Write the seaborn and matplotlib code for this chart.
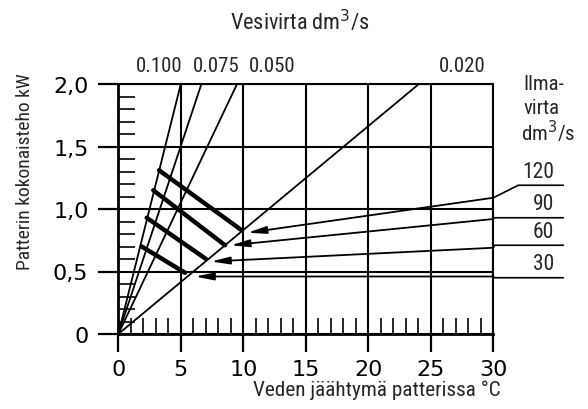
import matplotlib
matplotlib.use("Agg")
import matplotlib.pyplot as plt
from matplotlib.ticker import MultipleLocator
import numpy as np
import pandas as pd
import seaborn as sns

# ---------------- data ----------------
water_flow_labels = ["0.100", "0.075", "0.050", "0.020"]      # dm3/s
water_dT_at_top = [5.0, 6.65, 9.5, 24.05]                     # deg C where line reaches 2.0 kW
top_power = 2.0

air_flow_labels = ["120", "90", "60", "30"]                   # dm3/s
thick_dT_start = [3.26, 2.80, 2.27, 1.87]
thick_P_start = [1.31, 1.15, 0.93, 0.70]
thick_dT_end = [9.87, 8.54, 7.02, 5.34]
thick_P_end = [0.83, 0.71, 0.60, 0.49]

arrow_tail_P = [1.09, 0.92, 0.69, 0.46]
arrow_head_dT = [10.35, 9.0, 7.42, 6.14]
arrow_head_P = [0.81, 0.71, 0.58, 0.46]
label_line_P = [1.19, 0.93, 0.71, 0.45]

x_ticks = [0, 5, 10, 15, 20, 25, 30]
y_ticks = [0, 0.5, 1.0, 1.5, 2.0]
y_ticklabels = ["0", "0,5", "1,0", "1,5", "2,0"]

# ---------------- style ----------------
sns.set_style("ticks")
narrow = ["Roboto Condensed", "Liberation Sans Narrow", "Open Sans Condensed", "Lato", "DejaVu Sans"]
plt.rcParams["font.family"] = ["DejaVu Sans"]

fig = plt.figure(figsize=(5.88, 4.10), dpi=100)
ax = fig.add_axes([118.3 / 588, 75 / 410, 375 / 588, 250 / 410])

# water-flow lines (from origin)
wl = pd.DataFrame({
    "flow": np.repeat(water_flow_labels, 2),
    "dT": np.ravel([[0.0, d] for d in water_dT_at_top]),
    "P": np.ravel([[0.0, top_power] for _ in water_dT_at_top]),
})
sns.lineplot(data=wl, x="dT", y="P", units="flow", estimator=None, sort=False,
             color="black", lw=1.3, ax=ax, zorder=3)

# air-flow thick segments
th = pd.DataFrame({
    "air": np.repeat(air_flow_labels, 2),
    "dT": np.ravel(list(zip(thick_dT_start, thick_dT_end))),
    "P": np.ravel(list(zip(thick_P_start, thick_P_end))),
})
sns.lineplot(data=th, x="dT", y="P", units="air", estimator=None, sort=False,
             color="black", lw=3.2, ax=ax, zorder=4)

# arrows from right edge
for tp, hx, hp in zip(arrow_tail_P, arrow_head_dT, arrow_head_P):
    ax.annotate("", xy=(hx, hp), xytext=(30, tp),
                arrowprops=dict(arrowstyle="-|>,head_length=1.1,head_width=0.22",
                                color="black", lw=1.3, shrinkA=0, shrinkB=0,
                                mutation_scale=10),
                zorder=5, annotation_clip=False)

# label leaders and underlines
knee_x = [32.0, 30.1, 30.1, 30.1]
for tp, lp, kx, lab in zip(arrow_tail_P, label_line_P, knee_x, air_flow_labels):
    ax.plot([30, kx, 35.6], [tp, lp, lp], color="black", lw=1.2, clip_on=False, zorder=5)
    ax.text(34.86, lp + 0.11, lab, ha="right", va="center", fontsize=15.5,
            family=narrow, clip_on=False)

ax.text(32.4, 2.0, "Ilma-", ha="left", va="center", fontsize=15, family=narrow)
ax.text(32.4, 1.808, "virta", ha="left", va="center", fontsize=15, family=narrow)
ax.text(32.2, 1.624, "dm$^3$/s", ha="left", va="center", fontsize=15, family=narrow)

top_label_x = [3.3, 7.8, 12.3, 27.5]
for xl, lab in zip(top_label_x, water_flow_labels):
    ax.text(xl, 2.152, lab, ha="center", va="center", fontsize=15, family=narrow)

fig.text(300 / 588, (410 - 22) / 410, "Vesivirta dm$^3$/s", ha="center", va="center",
         fontsize=16, family=narrow)
fig.text(25 / 588, (410 - 172) / 410, "Patterin kokonaisteho kW", rotation=90,
         ha="center", va="center", fontsize=14, family=narrow)
fig.text(501 / 588, (410 - 390) / 410, "Veden jäähtymä patterissa °C", ha="right",
         va="center", fontsize=15.3, family=narrow)

# axes
ax.set_xlim(0, 30)
ax.set_ylim(0, 2.0)
ax.set_xlabel("")
ax.set_ylabel("")
ax.set_xticks(x_ticks)
ax.set_xticklabels([str(v) for v in x_ticks])
ax.set_yticks(y_ticks)
ax.set_yticklabels(y_ticklabels)
ax.xaxis.set_minor_locator(MultipleLocator(1))
ax.yaxis.set_minor_locator(MultipleLocator(0.1))
ax.tick_params(axis="x", which="both", bottom=True, top=False)
ax.tick_params(axis="y", which="both", left=True, right=False)
ax.tick_params(axis="x", which="major", direction="out", length=13, width=1.6,
               pad=5, labelsize=16, colors="black")
ax.tick_params(axis="x", which="minor", direction="in", length=11.5, width=1.4)
ax.tick_params(axis="y", which="major", direction="out", length=14.5, width=1.6,
               pad=7, labelsize=16, colors="black")
ax.tick_params(axis="y", which="minor", direction="in", length=12.5, width=1.4)
ax.grid(True, which="major", color="black", lw=1.5)
ax.set_axisbelow(True)
for s in ax.spines.values():
    s.set_visible(True)
    s.set_color("black")
    s.set_linewidth(1.5)
ax.spines["left"].set_linewidth(2)
ax.spines["bottom"].set_linewidth(2)

fig.savefig("out.png", dpi=100)
